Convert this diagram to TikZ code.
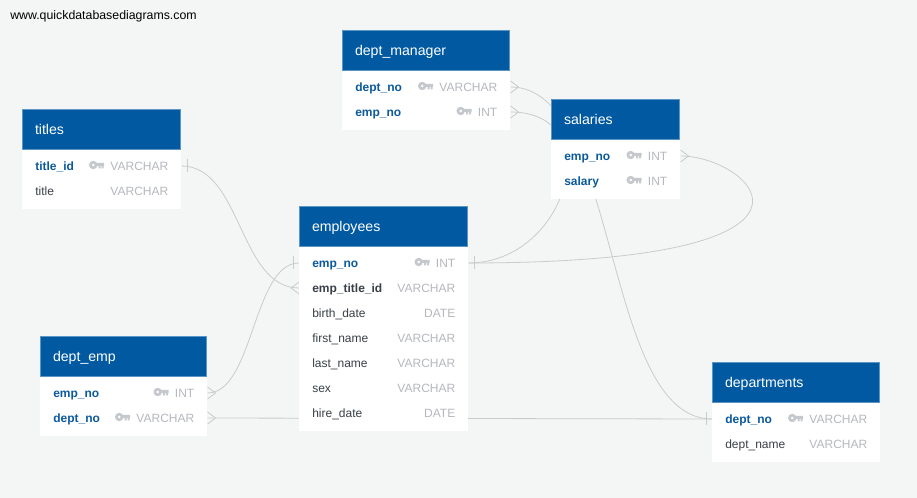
\documentclass[tikz,border=0pt]{standalone}
\usepackage{fontspec}
\usepackage{xcolor}
\usetikzlibrary{backgrounds}
\setmainfont{Liberation Sans}
\definecolor{pagegrey}{HTML}{F4F6F6}
\definecolor{headblue}{HTML}{0059A1}
\definecolor{headedge}{HTML}{5C96C6}
\definecolor{keyblue}{HTML}{0B5A9E}
\definecolor{darktext}{HTML}{3A3F47}
\definecolor{typegrey}{HTML}{B5B8BD}
\definecolor{icongrey}{HTML}{C5C8CC}
\definecolor{linegrey}{HTML}{C9CCCA}
\tikzset{
  link/.style={draw=linegrey, line width=0.6pt},
  head/.style={anchor=north west, fill=headblue, draw=headedge, line width=0.3pt, text=white,
    font=\fontsize{10.6}{12}\selectfont, minimum height=29.7pt, inner xsep=9.6pt, inner ysep=0pt,
    text width=#1*0.75pt-20pt, align=left, text height=10.5pt, text depth=2pt},
  body/.style={anchor=north west, fill=white, inner sep=0pt, minimum width=#1*0.75pt, minimum height=45pt},
  row/.style={anchor=west, inner xsep=9.75pt, inner ysep=0pt, minimum height=18.75pt,
    text width=#1*0.75pt-19.5pt, align=left, text=darktext, font=\fontsize{9}{11}\selectfont,
    text height=8.5pt, text depth=2pt},
  keyrow/.style={row=#1, text=keyblue, font=\fontsize{9}{11}\selectfont\bfseries},
  boldrow/.style={row=#1, font=\fontsize{9}{11}\selectfont\bfseries},
  typetext/.style={anchor=east, inner xsep=9.75pt, inner ysep=0pt, text=typegrey,
    font=\fontsize{9}{11}\selectfont, text height=8.5pt, text depth=2pt},
  keyicon/.pic={
    \fill[icongrey, even odd rule] (-4,-1) circle (4.2) (-4,-1) circle (1.6);
    \fill[icongrey] (-1,-3) rectangle (7,0) (1.5,0) rectangle (3.5,2.4) (4.5,0) rectangle (6.5,2.4);
  },
  crow/.pic={\draw[link] (0,-6) -- (8,0) -- (0,6);},
  bar/.pic={\draw[link] (6,-6.5) -- (6,6.5);}
}
\begin{document}
\begin{tikzpicture}[x=0.75pt, y=-0.75pt]
  \useasboundingbox (0,0) rectangle (917,498);

  \node[anchor=west, inner sep=0pt, font=\fontsize{9.25}{11}\selectfont] (site) at (10,16) {www.quickdatabasediagrams.com};

  % titles
  \node[body=159] (titlesBody) at (22,149) {};
  \node[head=159] (titles) at (22,109) {titles};
  \node[keyrow=159] (titleId) at (22,166) {title\_id};
  \node[typetext] (titleIdT) at (titleId.east) {VARCHAR};
  \pic at (titleIdT.west) {keyicon};
  \node[row=159] (titleName) at (22,191) {title};
  \node[typetext] (titleNameT) at (titleName.east) {VARCHAR};

  % dept_manager
  \node[body=168] (dmBody) at (342,70) {};
  \node[head=168] (dm) at (342,30) {dept\_manager};
  \node[keyrow=168] (dmDept) at (342,87) {dept\_no};
  \node[typetext] (dmDeptT) at (dmDept.east) {VARCHAR};
  \pic at (dmDeptT.west) {keyicon};
  \node[keyrow=168] (dmEmp) at (342,112) {emp\_no};
  \node[typetext] (dmEmpT) at (dmEmp.east) {INT};
  \pic at (dmEmpT.west) {keyicon};

  % salaries
  \node[body=129] (salBody) at (551,139) {};
  \node[head=129] (sal) at (551,99) {salaries};
  \node[keyrow=129] (salEmp) at (551,156) {emp\_no};
  \node[typetext] (salEmpT) at (salEmp.east) {INT};
  \pic at (salEmpT.west) {keyicon};
  \node[keyrow=129] (salSalary) at (551,181) {salary};
  \node[typetext] (salSalaryT) at (salSalary.east) {INT};
  \pic at (salSalaryT.west) {keyicon};

  % employees
  \node[body=169, minimum height=138.75pt] (empBody) at (299,246) {};
  \node[head=169] (emp) at (299,206) {employees};
  \node[keyrow=169] (empNo) at (299,263) {emp\_no};
  \node[typetext] (empNoT) at (empNo.east) {INT};
  \pic at (empNoT.west) {keyicon};
  \node[boldrow=169] (empTitle) at (299,288) {emp\_title\_id};
  \node[typetext] (empTitleT) at (empTitle.east) {VARCHAR};
  \node[row=169] (empBirth) at (299,313) {birth\_date};
  \node[typetext] (empBirthT) at (empBirth.east) {DATE};
  \node[row=169] (empFirst) at (299,338) {first\_name};
  \node[typetext] (empFirstT) at (empFirst.east) {VARCHAR};
  \node[row=169] (empLast) at (299,363) {last\_name};
  \node[typetext] (empLastT) at (empLast.east) {VARCHAR};
  \node[row=169] (empSex) at (299,388) {sex};
  \node[typetext] (empSexT) at (empSex.east) {VARCHAR};
  \node[row=169] (empHire) at (299,413) {hire\_date};
  \node[typetext] (empHireT) at (empHire.east) {DATE};

  % dept_emp
  \node[body=167] (deBody) at (40,376) {};
  \node[head=167] (de) at (40,336) {dept\_emp};
  \node[keyrow=167] (deEmp) at (40,393) {emp\_no};
  \node[typetext] (deEmpT) at (deEmp.east) {INT};
  \pic at (deEmpT.west) {keyicon};
  \node[keyrow=167] (deDept) at (40,418) {dept\_no};
  \node[typetext] (deDeptT) at (deDept.east) {VARCHAR};
  \pic at (deDeptT.west) {keyicon};

  % departments
  \node[body=168] (depBody) at (712,402) {};
  \node[head=168] (dep) at (712,362) {departments};
  \node[keyrow=168] (depNo) at (712,419) {dept\_no};
  \node[typetext] (depNoT) at (depNo.east) {VARCHAR};
  \pic at (depNoT.west) {keyicon};
  \node[row=168] (depName) at (712,444) {dept\_name};
  \node[typetext] (depNameT) at (depName.east) {VARCHAR};

  % connectors go under the tables
  \begin{scope}[on background layer]
    \fill[pagegrey] (0,0) rectangle (917,498);

    \draw[link] (titleId.east) .. controls +(60,0) and +(-60,0) .. (empTitle.west);
    \draw[link] (deEmp.east) .. controls +(46,0) and +(-46,0) .. (empNo.west);
    \draw[link] (deDept.east) -- (depNo.west);
    \draw[link] (dmDept.east) .. controls +(110,0) and +(-110,0) .. (depNo.west);
    \draw[link] (dmEmp.east) .. controls +(99,0) and +(99,0) .. (empNo.east);
    \draw[link] (salEmp.east) .. controls +(70,0) and +(400,0) .. (empNo.east);

    \pic at (titleId.east) {bar};
    \pic[xscale=-1] at (empTitle.west) {crow};
    \pic[xscale=-1] at (empNo.west) {bar};
    \pic at (empNo.east) {bar};
    \pic at (deEmp.east) {crow};
    \pic at (deDept.east) {crow};
    \pic at (dmDept.east) {crow};
    \pic at (dmEmp.east) {crow};
    \pic at (salEmp.east) {crow};
    \pic[xscale=-1] at (depNo.west) {bar};
  \end{scope}
\end{tikzpicture}
\end{document}
